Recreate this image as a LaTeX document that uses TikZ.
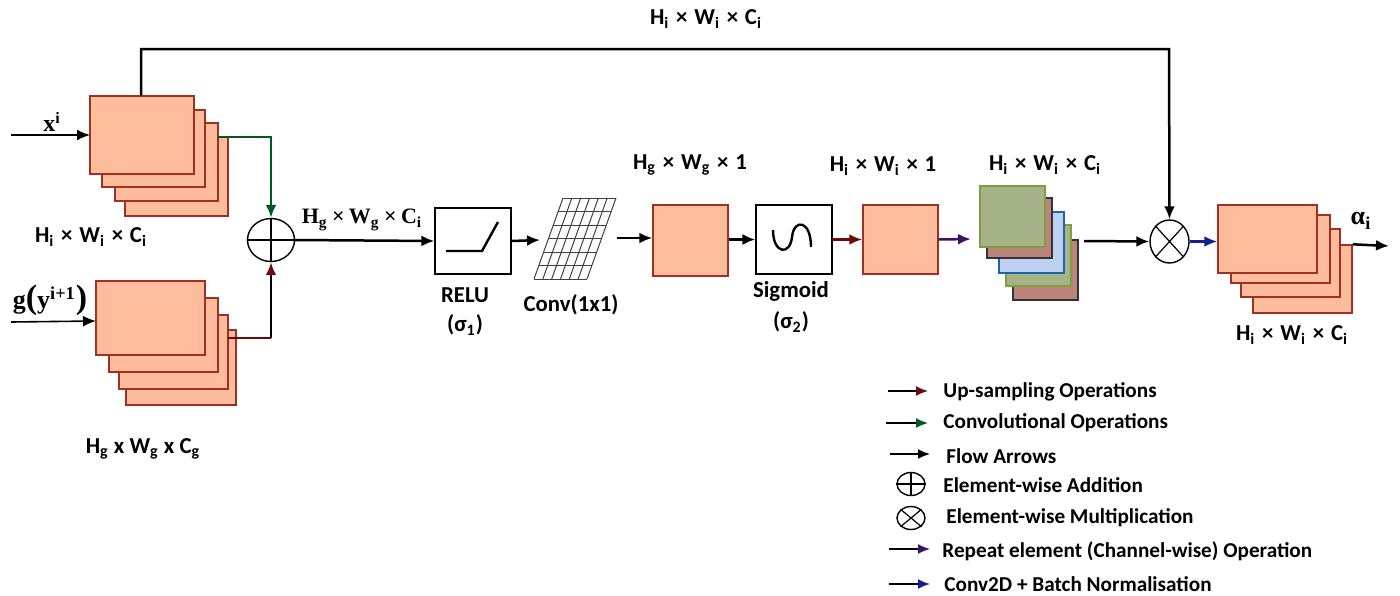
\documentclass[tikz,border=0pt]{standalone}
\usepackage{fontspec}
\setmainfont{Carlito}
\newfontfamily\serifbold{Liberation Serif}
\usetikzlibrary{arrows.meta,shapes.geometric}
\definecolor{featfill}{RGB}{253,188,156}
\definecolor{featedge}{RGB}{160,48,34}
\definecolor{upred}{RGB}{110,10,10}
\definecolor{convgreen}{RGB}{0,90,30}
\definecolor{repeatpurple}{RGB}{60,20,100}
\definecolor{normblue}{RGB}{20,30,140}
\newcommand{\sub}[1]{\textsubscript{#1}}
\newcommand{\by}{\hspace{0.3em}×\hspace{0.3em}}
\tikzset{
    feat/.style = {draw = featedge, fill = featfill, line width = 0.7pt, inner sep = 0pt},
    sagebox/.style = {draw = {rgb,255:red,125;green,160;blue,60}, fill = {rgb,255:red,166;green,178;blue,136}, line width = 0.7pt, inner sep = 0pt},
    brownbox/.style = {draw = black!80, fill = {rgb,255:red,186;green,132;blue,122}, line width = 0.7pt, inner sep = 0pt},
    bluebox/.style = {draw = {rgb,255:red,30;green,100;blue,170}, fill = {rgb,255:red,190;green,208;blue,242}, line width = 0.7pt, inner sep = 0pt},
    opbox/.style = {draw, fill = white, line width = 0.6pt, inner sep = 0pt},
    opsign/.style = {ellipse, draw, line width = 0.7pt, inner sep = 0pt},
    flow/.style = {line width = 1.25pt, -{Latex[length = 6.5pt, width = 5.5pt]}},
    thinflow/.style = {line width = 0.8pt, -{Latex[length = 6.5pt, width = 5.5pt]}},
    tag/.style = {font = \bfseries\fontsize{11.4}{13}\selectfont, inner sep = 0pt},
    eqtag/.style = {font = \serifbold\bfseries\fontsize{11}{13}\selectfont, inner sep = 0pt},
    key/.style = {font = \bfseries\fontsize{10.6}{12}\selectfont, inner sep = 0pt, anchor = west},
}
\begin{document}
\begin{tikzpicture}[x = 0.5pt, y = -0.5pt]
        \useasboundingbox (0,0) rectangle (1400,595);

        \foreach \name/\kind/\l/\t/\r/\b in {
            xd/feat/125/137/228/216, xc/feat/115/123/218/201, xb/feat/102/110/205/187, xa/feat/90/96/194/174,
            gd/feat/126/330/236/405, gc/feat/119/315/228/389, gb/feat/109/298/218/372, ga/feat/96/281/205/355,
            flat/feat/653/205/728/276, up/feat/863/205/938/274,
            re/brownbox/1013/240/1078/300, rd/sagebox/1006/225/1071/286, rc/bluebox/999/212/1064/273,
            rb/brownbox/987/198/1052/258, ra/sagebox/980/186/1045/247,
            od/feat/1253/245/1352/313, oc/feat/1241/229/1340/297, ob/feat/1231/215/1330/283, oa/feat/1218/205/1317/273,
            relu/opbox/435/208/511/274, sigm/opbox/756/205/832/274} {
            \node[\kind, minimum width = {(\r-\l)*0.5pt}, minimum height = {(\b-\t)*0.5pt}] (\name) at ({(\l+\r)/2},{(\t+\b)/2}) {};
        }

        % summing and product signs
        \node[opsign, minimum width = 23.5pt, minimum height = 21.5pt] (add) at (271,240) {};
        \draw[line width = 0.6pt] (add.north) -- (add.south) (add.west) -- (add.east);
        \node[opsign, minimum width = 19.5pt, minimum height = 21.5pt] (mul) at (1169.5,241.5) {};
        \draw[line width = 0.6pt] (mul.north west) -- (mul.south east) (mul.north east) -- (mul.south west);

        \draw[line width = 1.2pt] (446,251) -- (482,251) -- (498,222);
        \draw[line width = 1.2pt] (773,230) .. controls (773,254) and (790,256) .. (792,237) .. controls (794,218) and (811,220) .. (811,247);

        \foreach \t in {0,...,6} {
            \draw[black!75, line width = 0.5pt] ({563-29*\t/6},{198+81*\t/6}) -- ({616-29*\t/6},{198+81*\t/6});
            \draw[black!75, line width = 0.5pt] ({563+53*\t/6},198) -- ({534+53*\t/6},279);
        }

        \coordinate (xin) at (11,135);
        \coordinate (gin) at (11,322);
        \coordinate (xleft) at (90,135);
        \coordinate (gleft) at (96,321);
        \coordinate (xout) at (218,137);
        \coordinate (gout) at (228,338);
        \coordinate (gridin) at (540,240);
        \coordinate (gridout) at (617,238);
        \coordinate (repeatend) at (971,239);
        \coordinate (rstackout) at (1084,241);
        \coordinate (alphaend) at (1389,246);

        \draw[thinflow] (xin) -- (xleft);
        \draw[thinflow] (gin) -- (gleft);
        \draw[flow] (xa.north) ++(-1,0) -- (141,49) -- (1169,49) -- (mul.north);
        \draw[flow, convgreen] (xout) -- (add.north |- xout) -- (add.north);
        \draw[line width = 1.25pt, upred] (gout) -- (add.south |- gout);
        \draw[flow, -{Latex[length = 6.5pt, width = 5.5pt, color = upred]}] (add.south |- gout) -- (add.south);
        \draw[flow] (add.east) -- (relu.west);
        \draw[flow] (relu.east) -- (gridin);
        \draw[flow] (gridout) -- (flat.west |- gridout);
        \draw[flow] (flat.east |- sigm.west) -- (sigm.west);
        \draw[flow, upred] (sigm.east) -- (up.west);
        \draw[flow, repeatpurple] (up.east) -- (repeatend);
        \draw[flow] (rstackout) -- (mul.west);
        \draw[flow, normblue] (mul.east) -- (oa.west |- mul.east);
        \draw[flow] (od.north east) -- (alphaend);

        \node[tag] (ltop) at (706,19) {H\sub{i}\by W\sub{i}\by C\sub{i}};
        \node[tag] (lx) at (91,237) {H\sub{i}\by W\sub{i}\by C\sub{i}};
        \node[tag] (lg) at (143,449) {H\sub{g} x W\sub{g} x C\sub{g}};
        \node[eqtag] (ladd) at (362,220) {H\sub{g}\hspace{0.2em}×\hspace{0.2em}W\sub{g}\hspace{0.2em}×\hspace{0.2em}C\sub{i}};
        \node[eqtag, font = \serifbold\bfseries\fontsize{12}{13}\selectfont] (lxi) at (52,122) {x\textsuperscript{i}};
        \node[eqtag, font = \serifbold\bfseries\fontsize{13}{13}\selectfont] (lgy) at (50,300) {g{\fontsize{17}{17}\selectfont(}y\textsuperscript{i+1}{\fontsize{17}{17}\selectfont)}};
        \node[tag] (lrelu) at (465,295) {RELU};
        \node[tag] (lsa) at (465,325) {(σ\sub{1})};
        \node[tag] (lconv) at (571,305) {Conv(1x1)};
        \node[tag] (lflat) at (690,165) {H\sub{g}\by W\sub{g}\by 1};
        \node[tag] (lup) at (883,166) {H\sub{i}\by W\sub{i}\by 1};
        \node[tag] (lsig) at (791,291) {Sigmoid};
        \node[tag] (lsb) at (791,322) {(σ\sub{2})};
        \node[tag] (lrep) at (1045,165) {H\sub{i}\by W\sub{i}\by C\sub{i}};
        \node[eqtag, font = \serifbold\bfseries\fontsize{13}{13}\selectfont] (lalpha) at (1361,221) {α\sub{i}};
        \node[tag] (lout) at (1292,335) {H\sub{i}\by W\sub{i}\by C\sub{i}};

        % legend
        \foreach \name/\col/\xa/\xb/\y in {
            keyup/upred/888/928/391, keyconv/convgreen/886/928/423, keyflow/black/890/930/454,
            keyrep/repeatpurple/889/930/549, keynorm/normblue/889/930/584} {
            \coordinate (\name a) at (\xa,\y);
            \coordinate (\name b) at (\xb,\y);
            \draw[thinflow, -{Latex[length = 6pt, width = 5pt, color = \col]}] (\name a) -- (\name b);
        }
        \node[opsign, minimum width = 14pt, minimum height = 11.5pt] (keyadd) at (911,484) {};
        \draw[line width = 0.6pt] (keyadd.north) -- (keyadd.south) (keyadd.west) -- (keyadd.east);
        \node[opsign, minimum width = 14pt, minimum height = 11.5pt] (keymul) at (911,518) {};
        \draw[line width = 0.6pt] (keymul.north west) -- (keymul.south east) (keymul.north east) -- (keymul.south west);

        \node[key] (tup) at (943,392) {Up-sampling Operations};
        \node[key] (tconv) at (943,423) {Convolutional Operations};
        \node[key] (tflow) at (946,456) {Flow Arrows};
        \node[key] (tadd) at (943,485) {Element-wise Addition};
        \node[key] (tmul) at (946,518) {Element-wise Multiplication};
        \node[key] (trep) at (942,551) {Repeat element (Channel-wise) Operation};
        \node[key] (tnorm) at (944,584) {Conv2D + Batch Normalisation};
    \end{tikzpicture}
\end{document}
